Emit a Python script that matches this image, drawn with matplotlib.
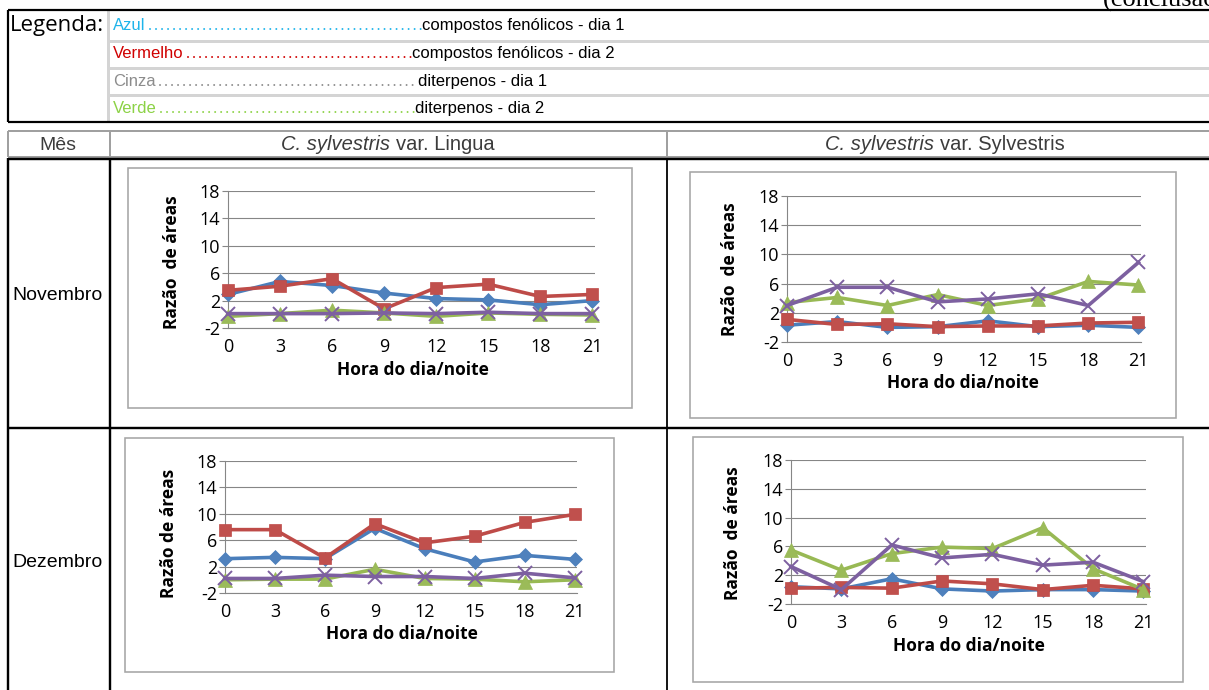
import matplotlib
matplotlib.use('Agg')
import matplotlib.pyplot as plt
from matplotlib.lines import Line2D
from matplotlib.patches import Rectangle

W, H = 1209, 690
DPI = 100
PX = 72.0 / DPI  # points per pixel

# ---------------- data ----------------
hours = [0, 3, 6, 9, 12, 15, 18, 21]
y_ticks = [-2, 2, 6, 10, 14, 18]

nov_lingua_blue = [2.9, 4.8, 4.2, 3.1, 2.3, 2.1, 1.4, 2.0]
nov_lingua_red = [3.5, 4.1, 5.2, 0.8, 3.9, 4.4, 2.6, 2.9]
nov_lingua_green = [-0.3, 0.1, 0.6, 0.2, -0.3, 0.2, 0.0, -0.1]
nov_lingua_purple = [0.1, 0.1, 0.1, 0.2, 0.1, 0.3, 0.1, 0.1]

nov_sylv_blue = [0.3, 0.8, 0.0, 0.1, 0.9, 0.1, 0.3, 0.0]
nov_sylv_red = [1.1, 0.4, 0.5, 0.1, 0.2, 0.2, 0.6, 0.7]
nov_sylv_green = [3.4, 4.1, 3.0, 4.5, 3.0, 3.9, 6.3, 5.8]
nov_sylv_purple = [3.0, 5.5, 5.5, 3.5, 3.9, 4.6, 3.0, 8.9]

dez_lingua_blue = [3.2, 3.4, 3.2, 7.8, 4.7, 2.7, 3.7, 3.1]
dez_lingua_red = [7.6, 7.6, 3.3, 8.5, 5.6, 6.6, 8.7, 9.9]
dez_lingua_green = [0.0, 0.1, 0.1, 1.6, 0.2, 0.1, -0.3, 0.0]
dez_lingua_purple = [0.2, 0.2, 0.7, 0.5, 0.5, 0.2, 1.0, 0.3]

dez_sylv_blue = [0.4, 0.1, 1.5, 0.1, -0.2, 0.0, 0.0, -0.2]
dez_sylv_red = [0.2, 0.3, 0.2, 1.2, 0.8, 0.0, 0.6, 0.1]
dez_sylv_green = [5.5, 2.7, 5.0, 5.9, 5.7, 8.6, 2.9, 0.0]
dez_sylv_purple = [3.2, 0.0, 6.2, 4.4, 4.9, 3.4, 3.8, 1.1]

legend_words = ["Azul", "Vermelho", "Cinza", "Verde"]
legend_desc = ["compostos fenólicos - dia 1", "compostos fenólicos - dia 2",
               "diterpenos - dia 1", "diterpenos - dia 2"]
legend_colors = ["#1EB4EA", "#D00000", "#8C8C8C", "#8CD246"]

months = ["Novembro", "Dezembro"]
varieties = [("C. sylvestris", " var. Lingua"), ("C. sylvestris", " var. Sylvestris")]

# ---------------- styling ----------------
plt.rcParams['font.family'] = ['Liberation Sans', 'DejaVu Sans']
plt.rcParams['lines.scale_dashes'] = False
plt.rcParams['axes.unicode_minus'] = False

series_style = [
    dict(color="#4A7EBB", marker="D", ms=7.0, mec="#4A7EBB", mfc="#4F81BD", mew=0.5),
    dict(color="#BE4B48", marker="s", ms=9.0, mec="#BE4B48", mfc="#C0504D", mew=0.5),
    dict(color="#98B954", marker="^", ms=10.0, mec="#98B954", mfc="#9BBB59", mew=0.5),
    dict(color="#7D60A0", marker="x", ms=9.5, mec="#7D60A0", mfc="#7D60A0", mew=1.4),
]

fig = plt.figure(figsize=(W / DPI, H / DPI), dpi=DPI)
fig.patch.set_facecolor('white')
bg = fig.add_axes([0, 0, 1, 1])
bg.set_xlim(0, W)
bg.set_ylim(H, 0)
bg.axis('off')
renderer = fig.canvas.get_renderer()


def hline(y, x0, x1, color, lw_px, z=2):
    bg.add_line(Line2D([x0, x1], [y, y], color=color, lw=lw_px * PX, zorder=z,
                       solid_capstyle='butt'))


def vline(x, y0, y1, color, lw_px, z=2):
    bg.add_line(Line2D([x, x], [y0, y1], color=color, lw=lw_px * PX, zorder=z,
                       solid_capstyle='butt'))


# ---------------- top caption ----------------
bg.text(1103, 7, "(conclusão)", family=['Liberation Serif', 'DejaVu Serif'],
        fontsize=19, ha='left', va='baseline', color='black', clip_on=True)

# ---------------- legend box ----------------
LG_GRAY = "#D4D4D4"
for y in [41, 68, 95]:
    hline(y, 108, W, LG_GRAY, 3)
vline(108, 10, 122, LG_GRAY, 3)
hline(10, 8, W, 'black', 2.2, z=3)
hline(122, 8, W, 'black', 2.2, z=3)
vline(8, 10, 122, 'black', 2.2, z=3)

bg.text(10, 31, "Legenda:", family=['Open Sans', 'DejaVu Sans'], fontsize=16,
        ha='left', va='baseline', color='black')

baselines = [30, 58, 86, 113]
desc_x = [422, 412, 418, 415]
for word, desc, col, yb, dx in zip(legend_words, legend_desc, legend_colors, baselines, desc_x):
    t = bg.text(113, yb, word, fontsize=12, color=col, ha='left', va='baseline')
    bb = t.get_window_extent(renderer)
    x_end = bb.x1
    bg.add_line(Line2D([x_end + 4, dx - 1.5], [yb - 1, yb - 1], color=col, lw=2.0 * PX,
                       linestyle=(0, (0.01, 6.0 * PX)), dash_capstyle='round', zorder=3))
    bg.text(dx, yb, desc, fontsize=12, color='black', ha='left', va='baseline')

# ---------------- main table ----------------
HDR_GRAY = "#A0A0A0"
hline(131, 8, W, HDR_GRAY, 2)
hline(157, 8, W, HDR_GRAY, 2)
vline(8, 131, 157, HDR_GRAY, 2)
vline(110, 131, 157, HDR_GRAY, 2)
vline(667, 131, 157, HDR_GRAY, 2)

hline(159, 8, W, 'black', 2.4, z=3)
hline(428, 8, W, 'black', 2.4, z=3)
vline(8, 158, H, 'black', 2.4, z=3)
vline(110, 158, H, 'black', 2.4, z=3)
vline(667, 158, H, 'black', 1.8, z=3)

HDR_TXT = "#3C3C3C"
bg.text(58, 150, "Mês", fontsize=14, color=HDR_TXT, ha='center', va='baseline')


def rich_center(xc, yb, parts, size, color):
    texts, widths = [], []
    for s, style in parts:
        t = bg.text(0, yb, s.strip(), fontsize=size, style=style, color=color,
                    ha='left', va='baseline')
        texts.append(t)
        widths.append(t.get_window_extent(renderer).width)
    gap = 0.278 * size / PX
    total = sum(widths) + gap * (len(parts) - 1)
    x = xc - total / 2
    for t, w in zip(texts, widths):
        t.set_x(x)
        x += w + gap


for (ital, rest), xc in zip(varieties, [388, 945]):
    rich_center(xc, 150, [(ital, 'italic'), (rest, 'normal')], 14.5, HDR_TXT)

bg.text(12, 300, months[0], fontsize=14, color='black', ha='left', va='baseline')
bg.text(12, 567, months[1], fontsize=14, color='black', ha='left', va='baseline')

# ---------------- charts ----------------
charts = [
    dict(box=(128, 168, 632, 408), plot=(228, 191, 595, 328),
         ylab=(172, 262), xlab=(413, 370), ytext="Razão  de áreas",
         data=[nov_lingua_blue, nov_lingua_red, nov_lingua_green, nov_lingua_purple]),
    dict(box=(690, 172, 1176, 418), plot=(787, 196, 1141, 342),
         ylab=(730, 269), xlab=(963, 383), ytext="Razão  de áreas",
         data=[nov_sylv_blue, nov_sylv_red, nov_sylv_green, nov_sylv_purple]),
    dict(box=(125, 438, 614, 672), plot=(225, 461, 577, 593),
         ylab=(169, 533), xlab=(402, 634), ytext="Razão de áreas",
         data=[dez_lingua_blue, dez_lingua_red, dez_lingua_green, dez_lingua_purple]),
    dict(box=(693, 437, 1183, 682), plot=(791, 460, 1146, 604),
         ylab=(733, 533), xlab=(969, 646), ytext="Razão  de áreas",
         data=[dez_sylv_blue, dez_sylv_red, dez_sylv_green, dez_sylv_purple]),
]

GRID = "#868686"
CHART_FONT = ['Open Sans', 'DejaVu Sans']
for ch in charts:
    x0, y0, x1, y1 = ch['box']
    bg.add_patch(Rectangle((x0, y0), x1 - x0, y1 - y0, fill=False,
                           edgecolor="#A6A6A6", lw=1.6 * PX, zorder=2))
    l, t, r, b = ch['plot']
    ax = fig.add_axes([l / W, 1 - b / H, (r - l) / W, (b - t) / H])
    ax.patch.set_alpha(0)
    ax.set_xlim(0, 21.15)
    ax.set_ylim(-2, 18)
    ax.set_yticks(y_ticks)
    ax.set_xticks(hours)
    ax.yaxis.grid(True, color=GRID, lw=1.1 * PX)
    ax.set_axisbelow(True)
    for s in ['top', 'right']:
        ax.spines[s].set_visible(False)
    ax.spines['left'].set_color(GRID)
    ax.spines['left'].set_linewidth(1.1 * PX)
    ax.spines['bottom'].set_color(GRID)
    ax.spines['bottom'].set_linewidth(1.1 * PX)
    ax.tick_params(axis='y', length=6 * PX, width=1.1 * PX, color=GRID, pad=1.5,
                   labelsize=13)
    ax.tick_params(axis='x', length=0, pad=7.5, labelsize=13)
    for lab in ax.get_xticklabels() + ax.get_yticklabels():
        lab.set_family(CHART_FONT)
    for vals, st in zip(ch['data'], series_style):
        ax.plot(hours, vals, lw=3.6 * PX, clip_on=False, zorder=3, **st)
    bg.text(ch['ylab'][0], ch['ylab'][1], ch['ytext'], rotation=90, ha='center',
            va='center', fontsize=12.5, fontweight='bold', family=CHART_FONT)
    bg.text(ch['xlab'][0], ch['xlab'][1], "Hora do dia/noite", ha='center',
            va='center', fontsize=12.5, fontweight='bold', family=CHART_FONT)

fig.savefig("out.png", dpi=DPI, facecolor='white')
